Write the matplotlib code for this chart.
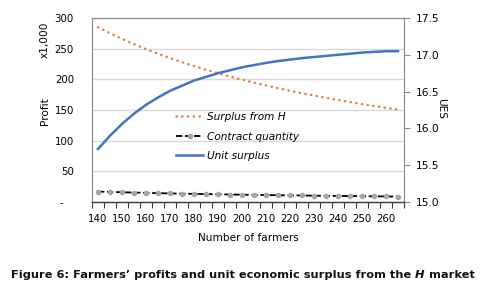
import numpy as np
import matplotlib
matplotlib.use('Agg')
import matplotlib.pyplot as plt
from matplotlib.ticker import FixedLocator

farmers = [140, 145, 150, 155, 160, 165, 170, 175, 180, 185, 190, 195, 200,
           205, 210, 215, 220, 225, 230, 235, 240, 245, 250, 255, 260, 265]
surplus_h = [285.0, 275.2, 266.0, 257.4, 249.4, 241.8, 234.7, 228.0, 221.7,
             215.7, 210.0, 204.6, 199.5, 194.6, 190.0, 185.6, 181.4, 177.3,
             173.5, 169.8, 166.3, 162.9, 159.6, 156.5, 153.5, 150.6]
contract_q = [17.0, 16.4, 15.9, 15.4, 14.9, 14.4, 14.0, 13.6, 13.2, 12.9,
              12.5, 12.2, 11.9, 11.6, 11.3, 11.1, 10.8, 10.6, 10.3, 10.1,
              9.9, 9.7, 9.5, 9.3, 9.1, 8.9]
unit_surplus = [15.72, 15.90, 16.06, 16.20, 16.32, 16.42, 16.51, 16.58, 16.65,
                16.70, 16.75, 16.79, 16.83, 16.86, 16.89, 16.915, 16.935, 16.955,
                16.97, 16.985, 17.0, 17.015, 17.03, 17.04, 17.048, 17.05]

left_ticks = [0, 50, 100, 150, 200, 250, 300]
left_labels = ['-   ', '50', '100', '150', '200', '250', '300']
right_ticks = [15.0, 15.5, 16.0, 16.5, 17.0, 17.5]
x_labels = [140, 150, 160, 170, 180, 190, 200, 210, 220, 230, 240, 250, 260]

W, H = 503, 293
fig = plt.figure(figsize=(W / 100, H / 100), dpi=100)
ax = fig.add_axes([92 / W, 1 - 202 / H, 312 / W, 184 / H])
ax2 = ax.twinx()

fs = 7.4
grid_c = '#d9d9d9'
spine_c = '#8c8c8c'

l1, = ax.plot(farmers, surplus_h, color='#ed7d31', lw=1.8,
              linestyle=(0, (0.1, 2.2)), dash_capstyle='round',
              label='Surplus from H')
l2, = ax.plot(farmers, contract_q, color='black', lw=1.3,
              linestyle=(0, (3.5, 1.5)), marker='o', markersize=3,
              markerfacecolor='#a5a5a5', markeredgecolor='#a5a5a5',
              label='Contract quantity')
l3, = ax2.plot(farmers, unit_surplus, color='#4472c4', lw=1.8,
               label='Unit surplus')

ax.set_xlim(137.5, 267.5)
ax.set_ylim(0, 300)
ax2.set_ylim(15.0, 17.5)

ax.set_yticks(left_ticks)
ax.set_yticklabels(left_labels)
ax.tick_params(axis='y', length=0, pad=13, labelsize=fs)
for t in left_ticks[1:]:
    ax.axhline(t, color=grid_c, lw=1.0, zorder=0)

ax.set_xticks(x_labels)
ax.set_xticklabels([str(v) for v in x_labels])
ax.tick_params(axis='x', length=0, pad=9, labelsize=fs)
ax.xaxis.set_minor_locator(FixedLocator(np.arange(137.5, 268, 5)))
ax.tick_params(axis='x', which='minor', length=4.5, width=0.8,
               color='#404040', direction='out')

ax2.set_yticks(right_ticks)
ax2.set_yticklabels([f'{v:.1f}' for v in right_ticks])
ax2.tick_params(axis='y', length=4.5, width=0.8, color=spine_c,
                pad=4, labelsize=fs + 0.3)

for a in (ax, ax2):
    for s in ('top', 'left', 'right'):
        a.spines[s].set_color(spine_c)
        a.spines[s].set_linewidth(0.8)
    a.spines['bottom'].set_color('#404040')
    a.spines['bottom'].set_linewidth(0.9)

ax.set_xlabel('Number of farmers', fontsize=fs + 0.2, labelpad=6)
fig.text(45 / W, 1 - 111 / H, 'Profit', rotation=90, ha='center',
         va='center', fontsize=fs + 0.2)
fig.text(45 / W, 1 - 40 / H, 'x1,000', rotation=90, ha='center',
         va='center', fontsize=fs + 0.2)
fig.text(441 / W, 1 - 109 / H, 'UES', rotation=270, ha='center',
         va='center', fontsize=fs + 0.2)

leg = ax2.legend(handles=[l1, l2, l3], loc='upper left',
                 bbox_to_anchor=(176 / W, 1 - 112 / H),
                 bbox_transform=fig.transFigure, frameon=False,
                 borderaxespad=0, borderpad=0, handlelength=2.6,
                 handletextpad=0.35, labelspacing=0.9,
                 prop={'size': fs + 0.2, 'style': 'italic'})

# caption with italic H
renderer = fig.canvas.get_renderer()
cap_y = 1 - 275 / H
parts = [("Figure 6: Farmers’ profits and unit economic surplus from the ", 'normal'),
         ('H', 'italic'), (' market', 'normal')]
x = 11 / W
for txt, style in parts:
    t = fig.text(x, cap_y, txt, fontsize=8.2, fontweight='bold',
                 fontstyle=style, va='center', ha='left', color='#111111')
    bb = t.get_window_extent(renderer=renderer)
    x = bb.x1 / (W)

fig.savefig('out.png', dpi=100)
